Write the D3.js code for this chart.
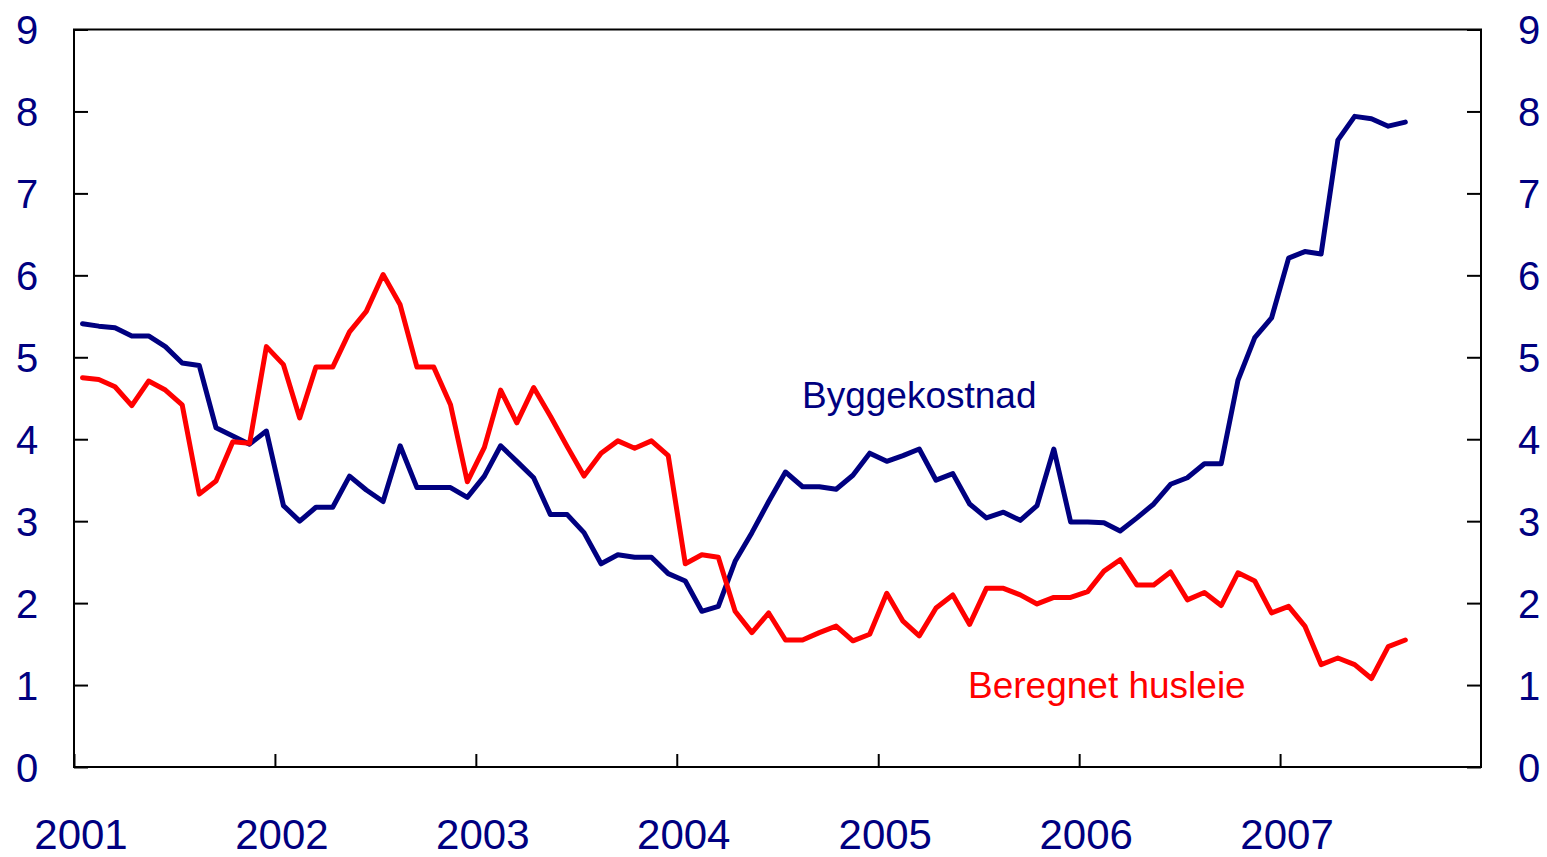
<html><head>
<script src="https://d3js.org/d3.v7.min.js"></script>
<style>
  body { margin: 0; background: #fff; }
  text { font-family: "Liberation Sans", Arial, sans-serif; }
</style>
</head>
<body>
<script>
  // monthly observations, Jan 2001 - Aug 2007
  var firstMonth = new Date(2001, 0, 1);
  var byggekostnad = [5.41,5.38,5.36,5.26,5.26,5.13,4.93,4.90,4.14,4.04,3.94,4.10,
                      3.19,3.00,3.17,3.17,3.55,3.38,3.24,3.92,3.41,3.41,3.41,3.29,
                      3.55,3.92,3.73,3.53,3.08,3.08,2.86,2.48,2.59,2.56,2.56,2.36,
                      2.27,1.90,1.96,2.51,2.86,3.24,3.60,3.42,3.42,3.39,3.56,3.83,
                      3.73,3.80,3.88,3.50,3.58,3.21,3.04,3.11,3.01,3.19,3.88,2.99,
                      2.99,2.98,2.88,3.04,3.21,3.45,3.53,3.70,3.70,4.72,5.24,5.48,
                      6.21,6.29,6.26,7.65,7.94,7.91,7.82,7.87];
  var husleie = [4.75,4.73,4.64,4.41,4.71,4.60,4.42,3.33,3.49,3.97,3.95,5.13,
                 4.91,4.26,4.88,4.88,5.31,5.56,6.01,5.64,4.88,4.88,4.42,3.48,
                 3.90,4.60,4.20,4.63,4.28,3.91,3.55,3.83,3.98,3.89,3.98,3.80,
                 2.48,2.59,2.56,1.90,1.64,1.88,1.55,1.55,1.64,1.72,1.54,1.62,
                 2.12,1.78,1.60,1.94,2.10,1.74,2.18,2.18,2.10,1.99,2.07,2.07,
                 2.14,2.39,2.53,2.22,2.22,2.38,2.04,2.13,1.97,2.37,2.27,1.88,
                 1.96,1.72,1.25,1.33,1.25,1.08,1.47,1.55];
  var years = [2001,2002,2003,2004,2005,2006,2007];
  var yTicks = [0,1,2,3,4,5,6,7,8,9];

  let width = 1547;
  let height = 857;
  let plotL = 74, plotR = 1481, plotT = 29.5, plotB = 767;
  let navy = "#000080";

  let svg = d3.select("body").append("svg").attr("width", width).attr("height", height);

  let xScale = d3.scaleTime().domain([new Date(2001,0,1), new Date(2008,0,1)]).range([plotL, plotR]);
  let yScale = d3.scaleLinear().domain([0,9]).range([plotB, plotT]);

  // x at the middle of each month
  function midMonth(i) {
    let a = d3.timeMonth.offset(firstMonth, i);
    let b = d3.timeMonth.offset(firstMonth, i+1);
    return (xScale(a) + xScale(b)) / 2;
  }

  let yLeft = d3.axisLeft(yScale).tickValues(yTicks).tickSize(-14).tickFormat(d3.format("d"));
  let yRight = d3.axisRight(yScale).tickValues(yTicks).tickSize(-14).tickFormat(d3.format("d"));
  let xAxis = d3.axisBottom(xScale).tickValues(years.map(y => new Date(y,0,1))).tickSize(-13).tickFormat(d3.timeFormat("%Y"));

  let gl = svg.append("g").attr("transform","translate("+plotL+",0)").call(yLeft);
  let gr = svg.append("g").attr("transform","translate("+plotR+",0)").call(yRight);
  let gx = svg.append("g").attr("transform","translate(0,"+plotB+")").call(xAxis);

  svg.selectAll(".domain").attr("stroke","none");
  svg.selectAll(".tick line").attr("stroke","#000").attr("stroke-width",2);

  gl.selectAll("text").attr("x", -47).attr("dy","0.36em").attr("text-anchor","middle")
    .attr("fill", navy).style("font-size","40px");
  gr.selectAll("text").attr("x", 48).attr("dy","0.36em").attr("text-anchor","middle")
    .attr("fill", navy).style("font-size","40px");
  gx.selectAll("text").attr("x", 6.5).attr("y", 82).attr("dy", 0).attr("text-anchor","middle")
    .attr("fill", navy).style("font-size","42px");

  // frame
  svg.append("rect").attr("x", plotL).attr("y", plotT).attr("width", plotR-plotL).attr("height", plotB-plotT)
    .attr("fill","none").attr("stroke","#000").attr("stroke-width",2);

  let line = d3.line().x((d,i) => midMonth(i)).y(d => yScale(d));

  svg.append("path").datum(byggekostnad).attr("d", line)
    .attr("fill","none").attr("stroke", navy).attr("stroke-width",5)
    .attr("stroke-linejoin","round").attr("stroke-linecap","round");

  svg.append("path").datum(husleie).attr("d", line)
    .attr("fill","none").attr("stroke","#ff0000").attr("stroke-width",5)
    .attr("stroke-linejoin","round").attr("stroke-linecap","round");

  svg.append("text").attr("x", 802).attr("y", 408).attr("fill", navy)
    .style("font-size","37px").text("Byggekostnad");
  svg.append("text").attr("x", 968).attr("y", 698).attr("fill", "#ff0000")
    .style("font-size","37px").text("Beregnet husleie");
</script>
</body>
</html>
